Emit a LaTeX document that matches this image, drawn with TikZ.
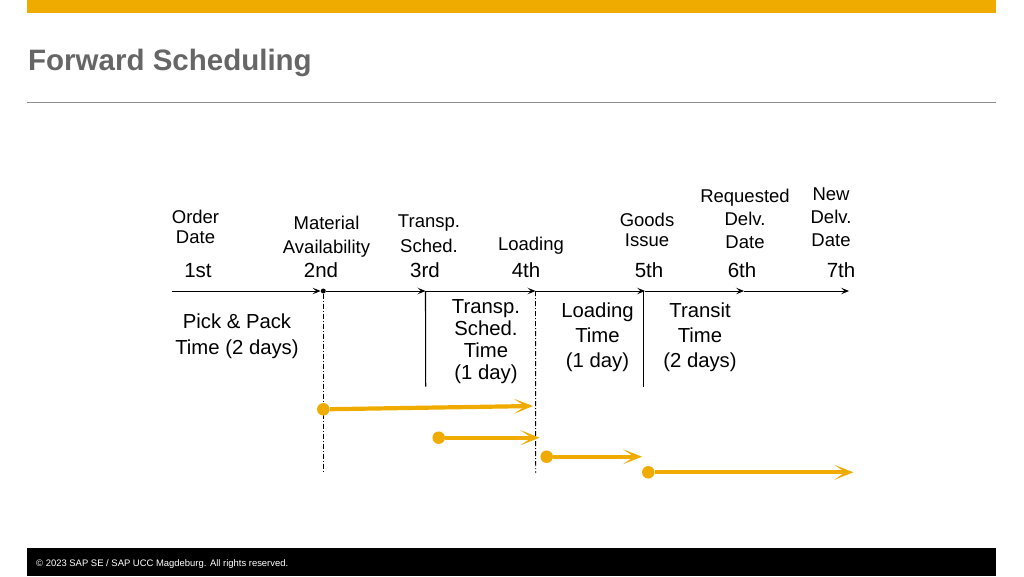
\documentclass[tikz,border=0pt]{standalone}
\usepackage{fontspec}
\setmainfont{Liberation Sans}
\usetikzlibrary{arrows.meta}
\definecolor{sapgold}{HTML}{F0AB00}
\definecolor{titlegray}{HTML}{666666}
\definecolor{rulegray}{HTML}{8C8C8C}
\begin{document}
\begin{tikzpicture}[x=1pt,y=-1pt,
  lbl/.style={align=center, inner sep=0pt, font=\fontsize{18.5}{#1}\selectfont},
  lbl/.default=23,
  datelbl/.style={anchor=base, inner sep=0pt, font=\fontsize{20.5}{24}\selectfont},
  body/.style={align=center, inner sep=0pt, font=\fontsize{20.3}{#1}\selectfont},
  tl/.style={line width=0.9pt, -{Stealth[length=8pt,width=6.5pt,inset=3.5pt]}},
  sepline/.style={line width=1.1pt},
  dashdot/.style={line width=0.9pt, dash pattern=on 5pt off 2pt on 1pt off 2pt},
  gdot/.style={circle, fill=sapgold, inner sep=0pt, minimum size=12.5pt},
  garrow/.style={draw=sapgold, line width=4.2pt, -{Stealth[length=19pt,width=15pt,inset=11pt]}},
  bdot/.style={circle, fill=black, inner sep=0pt, minimum size=5pt}]
\useasboundingbox (0,0) rectangle (1024,576);
% header
\fill[sapgold] (27,0) rectangle (996,13);
\node[anchor=base west, inner sep=0pt, text=titlegray, font=\fontsize{29.5}{34}\selectfont\bfseries] (title) at (28,70.7) {Forward Scheduling};
\draw[rulegray, line width=0.9pt] (27,102.7) -- (996,102.7);
% footer
\fill[black] (27,548) rectangle (996,576);
\node[anchor=base west, inner sep=0pt, text=white, font=\fontsize{9.45}{11}\selectfont] (foot) at (36,566) {© 2023 SAP SE / SAP UCC Magdeburg. All rights reserved.};
% event labels
\node[lbl=20] (lOrder) at (195.5,226.6) {Order\\Date};
\node[lbl=24] (lMat) at (326.5,237.2) {Material\\Availability};
\node[lbl=25] (lTr) at (429,233.8) {Transp.\\Sched.};
\node[anchor=base, inner sep=0pt, font=\fontsize{18.5}{23}\selectfont] (lLoad) at (531,250.5) {Loading};
\node[lbl=20] (lGI) at (647,230) {Goods\\Issue};
\node[lbl=22.8] (lReq) at (745,218.8) {Requested\\Delv.\\Date};
\node[lbl=23] (lNew) at (831,217) {New\\Delv.\\Date};
% dates
\node[datelbl] (d1) at (198,277.5) {1st};
\node[datelbl] (d2) at (321,277.5) {2nd};
\node[datelbl] (d3) at (425,277.5) {3rd};
\node[datelbl] (d4) at (526,277.5) {4th};
\node[datelbl] (d5) at (649,277.5) {5th};
\node[datelbl] (d6) at (742,277.5) {6th};
\node[datelbl] (d7) at (841,277.5) {7th};
% timeline
\coordinate (t0) at (172,291);
\node[bdot] (tdot) at (323.3,291) {};
\coordinate (t3) at (425.5,291);
\coordinate (t4) at (535.5,291);
\coordinate (t5) at (645,291);
\coordinate (t6) at (744,291);
\coordinate (t7) at (849,291);
\draw[tl] (t0) -- (tdot.west);
\draw[tl] (tdot) -- (t3);
\draw[tl] (t3) -- (t4);
\draw[tl] (t4) -- (t5);
\draw[tl] (t5) -- (t6);
\draw[tl] (t6) -- (t7);
% vertical lines
\coordinate (s3b) at (425.7,386.5);
\coordinate (s5t) at (643.3,291);
\coordinate (s5b) at (643.3,386.5);
\draw[sepline] (t3) -- (s3b);
\draw[sepline] (s5t) -- (s5b);
\coordinate (dd2b) at (323.3,473);
\coordinate (dd4b) at (535.7,473);
\draw[dashdot] (tdot) -- (dd2b);
\draw[dashdot] (t4) -- (dd4b);
% duration labels
\node[body=26] (bPick) at (237,336.1) {Pick \& Pack\\Time (2 days)};
\node[body=22.2] (bTr) at (486,341.5) {Transp.\\Sched.\\Time\\(1 day)};
\node[body=25] (bLoad) at (597.5,337.1) {Loading\\Time\\(1 day)};
\node[body=25] (bTrans) at (700,337.1) {Transit\\Time\\(2 days)};
% gold arrows
\node[gdot] (g1) at (323.3,409.3) {};
\coordinate (g1e) at (533,406);
\draw[garrow] (g1) -- (g1e);
\node[gdot] (g2) at (438.7,437.7) {};
\coordinate (g2e) at (539.5,437.7);
\draw[garrow] (g2) -- (g2e);
\node[gdot] (g3) at (546.7,456.7) {};
\coordinate (g3e) at (642,456.7);
\draw[garrow] (g3) -- (g3e);
\node[gdot] (g4) at (648.3,472.3) {};
\coordinate (g4e) at (853.3,472.3);
\draw[garrow] (g4) -- (g4e);
\end{tikzpicture}
\end{document}
